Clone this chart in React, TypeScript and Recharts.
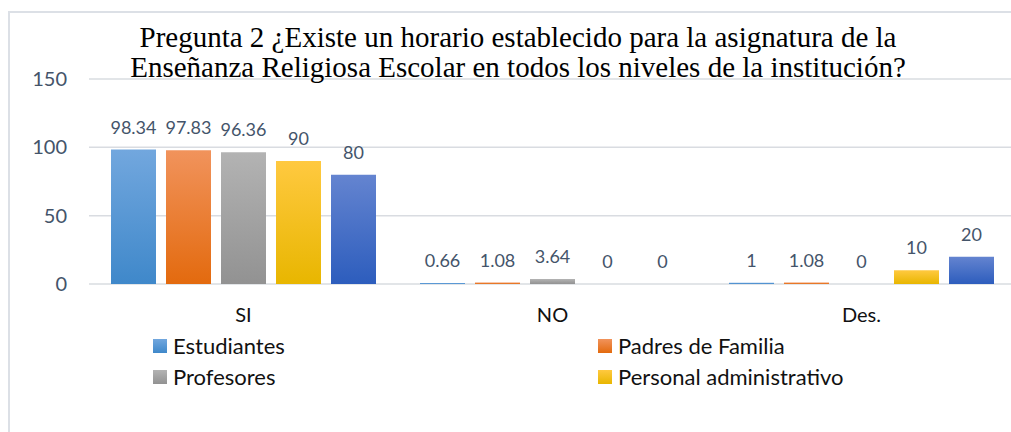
import { BarChart, Bar, XAxis, YAxis, CartesianGrid, Legend, LabelList } from 'recharts'

const categories = ['SI', 'NO', 'Des.']
const estudiantes = [98.34, 0.66, 1]
const padres = [97.83, 1.08, 1.08]
const profesores = [96.36, 3.64, 0]
const personal = [90, 0, 10]
const otros = [80, 0, 20]
const yTicks = [0, 50, 100, 150]

const series = [
  { key: 'Estudiantes', values: estudiantes, top: '#72A7DE', bottom: '#3F88CA', legend: true },
  { key: 'Padres de Familia', values: padres, top: '#F1935C', bottom: '#E36A0E', legend: true },
  { key: 'Profesores', values: profesores, top: '#B3B3B3', bottom: '#929292', legend: true },
  { key: 'Personal administrativo', values: personal, top: '#FFC940', bottom: '#E8B600', legend: true },
  { key: 'Otros', values: otros, top: '#6484D0', bottom: '#2D5DBD', legend: false },
]

const data = categories.map((name, i) => {
  const row: Record<string, string | number> = { name }
  series.forEach(s => { row[s.key] = s.values[i] })
  return row
})

const gradId = (i: number) => `grad${i}`

function LegendContent({ payload }: any) {
  // keep the series order, not the alphabetical one
  const items = (payload || [])
    .filter((p: any) => p.type !== 'none')
    .sort((a: any, b: any) => series.findIndex(s => s.key === a.value) - series.findIndex(s => s.key === b.value))
  return (
    <div style={{ display: 'grid', gridTemplateColumns: '445px 445px', paddingLeft: 153 }}>
      {items.map((p: any) => {
        const s = series.find(x => x.key === p.value)
        return (
          <div key={p.value} style={{ display: 'flex', alignItems: 'center', height: 31 }}>
            <span style={{
              width: 14, height: 14, marginRight: 6, display: 'inline-block',
              background: `linear-gradient(${s?.top}, ${s?.bottom})`,
            }} />
            <span style={{ fontSize: 22, color: '#111', fontFamily: 'Lato' }}>{p.value}</span>
          </div>
        )
      })}
    </div>
  )
}

export default function App() {
  return (
    <div style={{ position: 'fixed', left: 0, top: 0, width: 1011, height: 432, overflow: 'hidden', background: '#fff' }}>
      {/* outer frame, runs off the right and bottom edges */}
      <div style={{ position: 'absolute', left: 8, top: 11, width: 1040, height: 460, border: '2px solid #DCE0E6', boxSizing: 'border-box' }} />

      <div style={{ position: 'absolute', left: 0, top: 0 }}>
        <BarChart
          width={1040}
          height={432}
          data={data}
          margin={{ top: 79, right: 24, bottom: 108, left: 0 }}
          barGap={10}
          style={{ fontFamily: 'Lato' }}
        >
          <defs>
            {series.map((s, i) => (
              <linearGradient key={i} id={gradId(i)} x1="0" y1="0" x2="0" y2="1">
                <stop offset="0%" stopColor={s.top} />
                <stop offset="100%" stopColor={s.bottom} />
              </linearGradient>
            ))}
          </defs>
          <CartesianGrid vertical={false} stroke="#D9DCE1" strokeWidth={1.5} />
          <XAxis
            dataKey="name"
            height={40}
            axisLine={false}
            tickLine={false}
            tickSize={0}
            tickMargin={24}
            tick={{ fontSize: 20, fill: '#111' }}
          />
          <YAxis
            width={89}
            domain={[0, 150]}
            ticks={yTicks}
            axisLine={false}
            tickLine={false}
            tickSize={0}
            tickMargin={22}
            tick={{ fontSize: 20, fill: '#44546A' }}
          />
          <Legend
            layout="horizontal"
            verticalAlign="middle"
            align="center"
            itemSorter={null}
            wrapperStyle={{ left: 0, top: 330, width: 1040 }}
            content={<LegendContent />}
          />
          {series.map((s, i) => (
            <Bar
              key={s.key}
              dataKey={s.key}
              fill={`url(#${gradId(i)})`}
              barSize={45}
              minPointSize={0.01}
              legendType={s.legend ? 'square' : 'none'}
              isAnimationActive={false}
            >
              <LabelList dataKey={s.key} position="top" offset={16} style={{ fontSize: 18, fill: '#44546A' }} />
            </Bar>
          ))}
        </BarChart>
      </div>

      <div style={{
        position: 'absolute', left: 0, top: 22, width: 1036, textAlign: 'center',
        fontFamily: '"Liberation Serif", serif', fontSize: 29, lineHeight: '30px', color: '#000',
      }}>
        Pregunta 2 ¿Existe un horario establecido para la asignatura de la<br />
        Enseñanza Religiosa Escolar en todos los niveles de la institución?
      </div>
    </div>
  )
}
